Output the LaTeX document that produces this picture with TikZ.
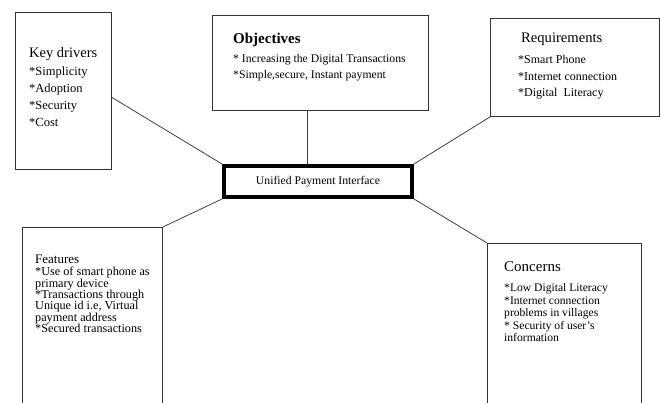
\documentclass[tikz,border=0pt]{standalone}
\usepackage{fontspec}
\setmainfont{Liberation Serif}
\newcommand\fsz[1]{\fontsize{#1}{#1}\selectfont}
\begin{document}
\begin{tikzpicture}[x=1pt,y=-1pt,
  box/.style={draw=black!80, line width=0.9pt, rectangle, anchor=north west, inner sep=0pt},
  hub/.style={draw=black, line width=4pt, rectangle, anchor=north west, inner sep=0pt,
              minimum width=188pt, minimum height=31pt, font=\fsz{11.7}},
  txt/.style={anchor=base west, inner sep=0pt, align=left},
  link/.style={draw=black!75, line width=0.8pt}]
\useasboundingbox (0,0) rectangle (661,403);
\clip (0,0) rectangle (661,403);

% boxes
\node[box, minimum width=96pt, minimum height=157pt] (kd) at (15,12) {};
\node[box, minimum width=216pt, minimum height=95pt] (obj) at (212,15) {};
\node[box, minimum width=169pt, minimum height=98pt] (req) at (490,18) {};
\node[box, minimum width=140pt, minimum height=200pt] (feat) at (22,227) {};
\node[box, minimum width=154pt, minimum height=190pt] (con) at (487,243) {};
\node[hub] (upi) at (222,164) {Unified Payment Interface};

% texts
\node[txt] (kdt) at (29,58) {\vtop{\hbox{\fsz{14.5}Key drivers}\baselineskip=18pt
  \hbox{\fsz{12.5}*Simplicity}\baselineskip=17pt
  \hbox{\fsz{12.5}*Adoption}\hbox{\fsz{12.5}*Security}\hbox{\fsz{12.5}*Cost}}};
\node[txt] (objt) at (233,44) {\vtop{\hbox{\fsz{15}\bfseries Objectives}\baselineskip=19pt
  \hbox{\fsz{11.7}* Increasing the Digital Transactions}\baselineskip=16pt
  \hbox{\fsz{11.7}*Simple,secure, Instant payment}}};
\node[txt] (reqt) at (518,43) {\vtop{\hbox{\fsz{14.6}\hskip3pt Requirements}\baselineskip=21pt
  \hbox{\fsz{12}*Smart Phone}\baselineskip=16.5pt
  \hbox{\fsz{12}*Internet connection}\hbox{\fsz{12}*Digital\ \ Literacy}}};
\node[txt] (featt) at (35,264) {\vtop{\hbox{\fsz{13}Features}\baselineskip=12pt
  \hbox{\fsz{12.2}*Use of smart phone as}\baselineskip=11.3pt
  \hbox{\fsz{12.2}primary device}
  \hbox{\fsz{12.2}*Transactions through}
  \hbox{\fsz{12.2}Unique id i.e, Virtual}
  \hbox{\fsz{12.2}payment address}
  \hbox{\fsz{12.2}*Secured transactions}}};
\node[txt] (cont) at (504,272) {\vtop{\hbox{\fsz{15}Concerns}\baselineskip=20pt
  \hbox{\fsz{11.6}*Low Digital Literacy}\baselineskip=12.5pt
  \hbox{\fsz{11.6}*Internet connection}
  \hbox{\fsz{11.6}problems in villages}
  \hbox{\fsz{11.6}* Security of user's}
  \hbox{\fsz{11.6}information}}};

% connectors
\draw[link] ([yshift=-6.5pt]kd.east) -- (upi.north west);
\draw[link] ([xshift=-13pt]obj.south) -- ([xshift=-13pt]obj.south |- upi.north);
\draw[link] (req.south west) -- (upi.north east);
\draw[link] (feat.north east) -- (upi.south west);
\draw[link] (con.north west) -- (upi.south east);
\end{tikzpicture}
\end{document}
